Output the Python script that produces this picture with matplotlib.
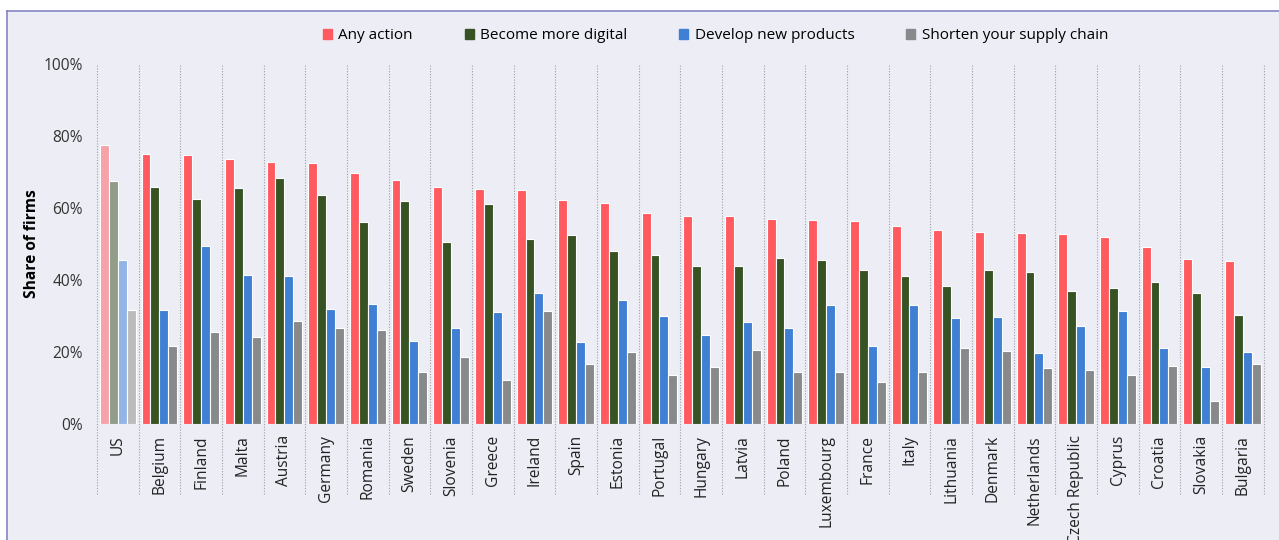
import numpy as np
import matplotlib
matplotlib.use("Agg")
import matplotlib.pyplot as plt
from matplotlib.patches import Rectangle

plt.rcParams['font.family'] = ['Open Sans', 'DejaVu Sans']

countries = ["US", "Belgium", "Finland", "Malta", "Austria", "Germany", "Romania", "Sweden",
             "Slovenia", "Greece", "Ireland", "Spain", "Estonia", "Portugal", "Hungary", "Latvia",
             "Poland", "Luxembourg", "France", "Italy", "Lithuania", "Denmark", "Netherlands",
             "Czech Republic", "Cyprus", "Croatia", "Slovakia", "Bulgaria"]
any_action = [77.5, 75.0, 74.8, 73.7, 72.9, 72.5, 69.7, 67.9, 65.9, 65.2, 65.0, 62.3, 61.4,
              58.7, 57.9, 57.7, 57.0, 56.8, 56.3, 55.1, 54.0, 53.4, 53.1, 52.8, 52.0, 49.3, 45.9, 45.2]
more_digital = [67.5, 65.7, 62.4, 65.6, 68.3, 63.6, 56.0, 61.9, 50.5, 61.2, 51.4, 52.5, 48.1,
                47.0, 43.8, 44.0, 46.2, 45.6, 42.9, 41.2, 38.2, 42.9, 42.3, 36.9, 37.7, 39.5, 36.4, 30.2]
new_products = [45.5, 31.8, 49.4, 41.4, 41.2, 31.9, 33.4, 23.1, 26.7, 31.2, 36.4, 22.9, 34.5,
                30.0, 24.8, 28.2, 26.6, 33.1, 21.7, 33.1, 29.4, 29.7, 19.7, 27.1, 31.3, 21.1, 15.9, 20.0]
supply_chain = [31.8, 21.8, 25.5, 24.1, 28.7, 26.7, 26.2, 14.5, 18.6, 12.2, 31.5, 16.7, 20.1,
                13.7, 15.9, 20.6, 14.5, 14.4, 11.6, 14.4, 21.0, 20.4, 15.5, 15.0, 13.6, 16.1, 6.5, 16.7]

series = ["Any action", "Become more digital", "Develop new products", "Shorten your supply chain"]
colors = ['#FF5A5F', '#375323', '#3F80D5', '#87898B']
us_colors = ['#F5A3A8', '#919D88', '#93B5E5', '#BCBCBC']

bg = '#ECEDF5'
fig = plt.figure(figsize=(12.79, 5.4), dpi=100, facecolor=bg)
ax = fig.add_axes([0.0758, 0.2148, 0.9122, 0.6667], facecolor=bg)

n = len(countries)
x = np.arange(n)
w = 0.215
data = [any_action, more_digital, new_products, supply_chain]
for i, vals in enumerate(data):
    cols = [us_colors[i] if c == "US" else colors[i] for c in countries]
    ax.bar(x + (i - 1.5) * w, vals, width=w, color=cols, edgecolor='white',
           linewidth=0.8, label=series[i], zorder=3)

ax.set_xlim(-0.5, n - 0.5)
ax.set_ylim(0, 100)
ax.set_yticks(np.arange(0, 101, 20))
ax.set_yticklabels([f"{v}%" for v in range(0, 101, 20)], fontsize=11.2, color='#333333')
ax.set_xticks(x)
ax.set_xticklabels(countries, rotation=90, fontsize=11.2, color='#222222', va='top')
ax.tick_params(axis='both', length=0)
ax.tick_params(axis='y', pad=10)
ax.tick_params(axis='x', pad=8)
for s in ax.spines.values():
    s.set_visible(False)

for b in np.arange(-0.5, n, 1.0):
    ax.axvline(b, ymin=-0.194, ymax=1.0, color='#A0A0A0', linestyle=(0, (1, 1.5)),
               linewidth=0.8, clip_on=False, zorder=1)

ax.set_ylabel("Share of firms", fontsize=11.2, fontweight='bold')
ax.yaxis.set_label_coords(-0.0485, 0.5)

handles = [Rectangle((0, 0), 1, 1, color=c) for c in colors]
fig.legend(handles, series, loc='center', bbox_to_anchor=(0.5594, 0.934), ncol=4,
           frameon=False, fontsize=11, handlelength=0.6, handleheight=0.6,
           handletextpad=0.4, columnspacing=3.4)

# figure frame (top and left edges)
fig.add_artist(plt.Line2D([0.0055, 1.0], [0.979, 0.979], color='#8484C6', linewidth=1.2,
                          transform=fig.transFigure))
fig.add_artist(plt.Line2D([0.0055, 0.0055], [0.0, 0.979], color='#8484C6', linewidth=1.2,
                          transform=fig.transFigure))
fig.add_artist(Rectangle((0, 0.979), 1, 0.021, transform=fig.transFigure, color='white',
                         zorder=-1))
fig.add_artist(Rectangle((0, 0), 0.0055, 0.979, transform=fig.transFigure, color='white',
                         zorder=-1))

fig.savefig("out.png", dpi=100, facecolor=bg)
